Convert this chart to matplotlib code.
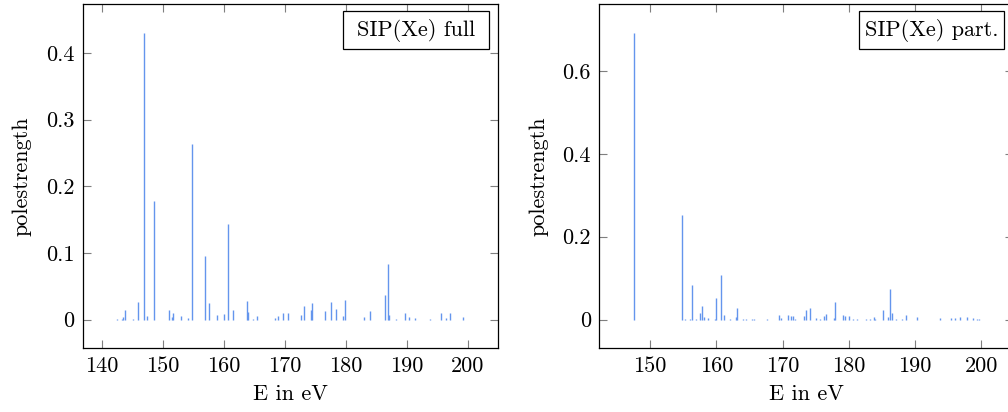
import matplotlib
matplotlib.use("Agg")
import matplotlib.pyplot as plt
from matplotlib.patches import Rectangle
from matplotlib.ticker import FuncFormatter

plt.rcParams["font.family"] = ["cmr10", "DejaVu Serif"]
plt.rcParams["mathtext.fontset"] = "cm"
plt.rcParams["axes.formatter.use_mathtext"] = True
plt.rcParams["axes.unicode_minus"] = False

# Pole energies (eV) and pole strengths, full SIP(Xe) spectrum
energy_full = [142.5, 143.3, 143.5, 143.7, 145.1, 145.9, 146.9, 147.4, 148.5,
               151.0, 151.4, 151.6, 152.9, 154.1, 154.7, 156.9, 157.6, 158.9,
               160.0, 160.6, 161.45, 163.7, 164.0, 164.7, 165.45, 168.3, 168.9,
               169.6, 170.5, 172.6, 173.1, 174.2, 174.5, 176.55, 177.5, 178.3,
               179.5, 179.8, 183.0, 184.0, 186.45, 186.9, 187.1, 188.25, 189.6,
               190.4, 191.4, 193.7, 195.6, 196.4, 197.1, 199.2]
strength_full = [0.0008, 0.001, 0.004, 0.0145, 0.001, 0.026, 0.4305, 0.0055, 0.178,
                 0.0145, 0.0045, 0.0095, 0.0055, 0.002, 0.2635, 0.095, 0.0245, 0.007,
                 0.009, 0.1435, 0.0145, 0.028, 0.012, 0.001, 0.0055, 0.002, 0.005,
                 0.0095, 0.010, 0.007, 0.021, 0.0145, 0.025, 0.0125, 0.027, 0.0155,
                 0.0055, 0.0295, 0.0045, 0.013, 0.037, 0.0835, 0.007, 0.001, 0.0105,
                 0.004, 0.002, 0.0005, 0.0105, 0.002, 0.0105, 0.0045]

# Partial SIP(Xe) spectrum
energy_part = [147.54, 154.85, 155.2, 156.0, 156.3, 157.0, 157.5, 157.9, 158.2, 158.7,
               159.8, 160.0, 160.75, 161.1, 162.1, 162.9, 163.1, 164.1, 164.5, 165.4,
               165.7, 167.7, 169.4, 169.8, 170.8, 171.3, 171.65, 171.9, 173.3, 173.5,
               174.2, 175.0, 175.6, 176.2, 176.6, 177.8, 177.95, 179.2, 179.45, 180.1,
               180.7, 181.2, 182.6, 183.2, 183.8, 184.0, 185.1, 185.9, 186.2, 186.6,
               187.1, 188.0, 188.7, 190.3, 193.8, 195.5, 196.0, 196.8, 197.9, 198.7,
               199.3, 199.6]
strength_part = [0.6924, 0.2525, 0.001, 0.001, 0.0836, 0.0008, 0.0153, 0.033, 0.0056, 0.004,
                 0.001, 0.052, 0.107, 0.011, 0.001, 0.0064, 0.027, 0.0015, 0.0024, 0.0015,
                 0.0015, 0.0024, 0.0105, 0.003, 0.0105, 0.008, 0.009, 0.0015, 0.008, 0.023,
                 0.029, 0.004, 0.0015, 0.009, 0.0145, 0.005, 0.042, 0.011, 0.009, 0.0096,
                 0.001, 0.0024, 0.0008, 0.0008, 0.0064, 0.001, 0.023, 0.0064, 0.074, 0.0153,
                 0.0024, 0.0015, 0.012, 0.0064, 0.004, 0.004, 0.005, 0.0056, 0.0064, 0.005,
                 0.0015, 0.0015]

xticks_full = [140, 150, 160, 170, 180, 190, 200]
yticks_full = [0, 0.1, 0.2, 0.3, 0.4]
xticks_part = [150, 160, 170, 180, 190, 200]
yticks_part = [0, 0.2, 0.4, 0.6]

BAR_COLOR = "#6495ED"
FS = 16


def enlarged(lo, hi, frac=0.1):
    pad = (hi - lo) * frac
    return lo - pad, hi + pad


def draw_panel(ax, energy, strength, xticks, yticks, label):
    ax.vlines(energy, 0, strength, colors=BAR_COLOR, linewidth=1.0)
    ax.set_xlim(*enlarged(min(energy), max(energy)))
    ax.set_ylim(*enlarged(0, max(strength)))
    ax.set_xticks(xticks)
    ax.set_yticks(yticks)
    ax.xaxis.set_major_formatter(FuncFormatter(lambda v, p: f"{v:g}"))
    ax.yaxis.set_major_formatter(FuncFormatter(lambda v, p: f"{v:g}"))
    ax.tick_params(direction="in", top=True, right=True, length=5.5, width=0.8,
                   color="#7f7f7f", labelsize=FS, pad=6)
    for sp in ax.spines.values():
        sp.set_linewidth(0.9)
    ax.set_xlabel("E in eV", fontsize=FS, labelpad=6)
    ax.set_ylabel("polestrength", fontsize=FS, labelpad=10)
    x0, x1, y0, y1 = 0.628, 0.979, 0.868, 0.980
    ax.add_patch(Rectangle((x0, y0), x1 - x0, y1 - y0, transform=ax.transAxes,
                           facecolor="white", edgecolor="black", linewidth=0.9,
                           zorder=5))
    ax.text((x0 + x1) / 2, (y0 + y1) / 2, label, transform=ax.transAxes,
            ha="center", va="center", fontsize=FS, zorder=6)
    return ax


fig = plt.figure(figsize=(10.08, 4.12), dpi=100)
ax1 = fig.add_axes([0.0820, 0.1546, 0.4117, 0.8357])
ax2 = fig.add_axes([0.5946, 0.1546, 0.4104, 0.8357])

draw_panel(ax1, energy_full, strength_full, xticks_full, yticks_full, "SIP(Xe) full")
draw_panel(ax2, energy_part, strength_part, xticks_part, yticks_part, "SIP(Xe) part.")

fig.savefig("out.png", dpi=100)
